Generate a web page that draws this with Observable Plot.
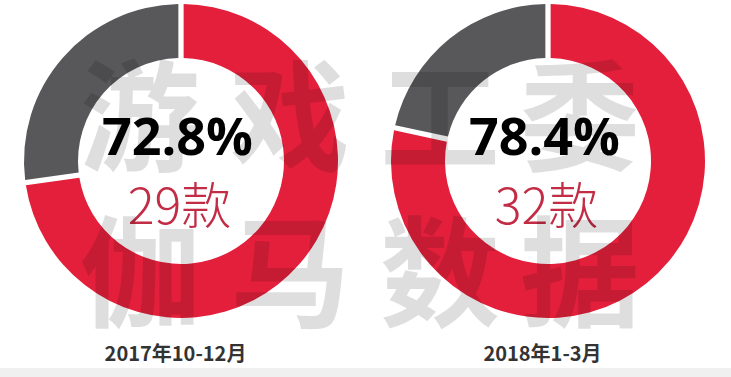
<!DOCTYPE html>
<html>
<head>
<meta charset="utf-8">
<script src="https://cdn.jsdelivr.net/npm/d3@7"></script>
<script src="https://cdn.jsdelivr.net/npm/@observablehq/plot@0.6"></script>
<style>
  html, body { margin: 0; padding: 0; background: #fff; }
  #chart { width: 731px; height: 368px; }
  #strip { width: 731px; height: 9px; background: #f0f0f0; }
  svg { display: block; }
</style>
</head>
<body>
<div id="chart"></div>
<div id="strip"></div>
<script>
const periods = ["2017年10-12月", "2018年1-3月"];
const shares = [72.8, 78.4];
const counts = [29, 32];
const watermarkRows = ["游戏工委", "伽马数据"];

const colors = { main: "#e31f3b", rest: "#58585b", count: "#c22c45", label: "#333333" };

const data = periods.map((p, i) => ({ period: p, share: shares[i], count: counts[i] }));

const R_OUT = 157, R_IN = 103, CY = 161;

function donuts(index, scales, values, dimensions) {
  const g = d3.create("svg:g");
  const pie = d3.pie().sort(null).value(d => d.v);
  const arc = d3.arc().innerRadius(R_IN).outerRadius(R_OUT).padAngle(0.028);
  for (const d of data) {
    const cx = scales.x(d.period);
    const slices = pie([{ v: d.share, c: colors.main }, { v: 100 - d.share, c: colors.rest }]);
    const gg = g.append("g").attr("transform", `translate(${cx},${CY})`);
    gg.selectAll("path").data(slices).join("path")
      .attr("d", arc).attr("fill", s => s.data.c);
  }
  return g.node();
}

function watermark(index, scales, values, dimensions) {
  const g = d3.create("svg:g")
    .attr("fill", "#000").attr("fill-opacity", 0.13)
    .attr("font-family", "'Noto Sans CJK SC', sans-serif")
    .attr("font-weight", 700).attr("font-size", 120)
    .attr("text-anchor", "middle");
  const cols = [140, 290, 440, 580];
  const rows = [162, 318];
  watermarkRows.forEach((row, r) => {
    [...row].forEach((ch, c) => {
      g.append("text").attr("x", cols[c]).attr("y", rows[r]).text(ch);
    });
  });
  return g.node();
}

const plot = Plot.plot({
  width: 731,
  height: 368,
  margin: 0,
  x: { type: "point", domain: periods, range: [181, 548], padding: 0, axis: null },
  y: { domain: [0, 1], axis: null },
  marks: [
    donuts,
    Plot.text(data, {
      x: "period", frameAnchor: "top", lineAnchor: "middle", dy: 138, dx: -4,
      text: d => d.share.toFixed(1) + "%",
      fontSize: 52, fontWeight: 700, fill: "#000",
      fontFamily: "'Open Sans', sans-serif"
    }),
    Plot.text(data, {
      x: "period", frameAnchor: "top", lineAnchor: "middle", dy: 207, dx: -2,
      text: d => d.count + "款",
      fontSize: 50, fontWeight: 300, fill: colors.count,
      fontFamily: "'Noto Sans CJK SC', sans-serif"
    }),
    Plot.text(data, {
      x: "period", frameAnchor: "top", lineAnchor: "middle", dy: 354, dx: -6,
      text: "period",
      fontSize: 20, fontWeight: 700, fill: colors.label,
      fontFamily: "'Noto Sans CJK SC', sans-serif"
    }),
    watermark
  ]
});
document.getElementById("chart").appendChild(plot);
</script>
</body>
</html>
